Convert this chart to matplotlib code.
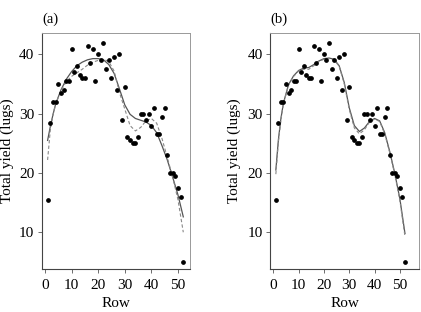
import numpy as np
import matplotlib
matplotlib.use("Agg")
import matplotlib.pyplot as plt

# -----------------------------
# data
# -----------------------------
rows = list(range(1, 53))
yield_lugs = [15.5, 28.5, 32, 32, 35, 33.5, 34, 35.5, 35.5, 41,
              37, 38, 36.5, 36, 36, 41.5, 38.5, 41, 35.5, 40,
              39, 42, 37.5, 39, 36, 39.5, 34, 40, 29, 34.5,
              26, 25.5, 25, 25, 26, 30, 30, 29, 30, 28,
              31, 26.5, 26.5, 29.5, 31, 23, 20, 20, 19.5, 17.5,
              16, 5]

fit_rows = [1, 2, 3, 4, 6, 8, 10, 12, 14, 16, 18, 20, 22, 24, 26, 28,
            30, 32, 34, 36, 38, 40, 42, 44, 46, 48, 50, 52]

# panel (a)
a_solid = [25.5, 27.8, 29.8, 31.6, 34.0, 35.8, 37.1, 38.1, 38.7, 39.1, 39.3, 39.3,
           39.1, 38.3, 36.8, 34.2, 31.5, 29.9, 29.2, 28.9, 28.6, 28.0, 26.8, 24.6,
           22.2, 19.3, 16.3, 12.6]
a_dashed = [22.2, 27.2, 29.8, 31.6, 33.9, 35.4, 36.3, 36.9, 37.5, 38.2, 38.7, 39.0,
            39.2, 38.8, 37.2, 33.6, 30.8, 28.0, 27.1, 27.7, 28.8, 29.2, 28.4, 25.8,
            22.6, 19.3, 15.5, 10.0]

# panel (b)
b_solid = [20.5, 25.6, 29.2, 31.8, 34.9, 36.4, 37.3, 37.7, 37.8, 38.3, 38.9, 39.3,
           39.4, 39.2, 38.1, 35.3, 31.0, 28.0, 27.0, 27.6, 28.7, 29.2, 28.8, 26.8,
           23.6, 19.9, 15.6, 9.8]
b_dashed = [19.8, 25.2, 29.0, 31.7, 34.8, 36.3, 37.2, 37.5, 37.5, 38.1, 38.8, 39.2,
            39.3, 39.1, 38.0, 35.1, 30.7, 27.6, 26.6, 27.3, 28.6, 29.1, 28.7, 26.6,
            23.4, 19.7, 15.3, 9.3]

plt.rcParams['font.family'] = ['Liberation Serif', 'DejaVu Serif']

fig = plt.figure(figsize=(4.21, 3.12), dpi=100)
ax_a = fig.add_axes([0.0998, 0.1378, 0.352, 0.756])
ax_b = fig.add_axes([0.642, 0.1378, 0.353, 0.756])

panels = [(ax_a, a_solid, a_dashed, "(a)", (-1.1, 54.6), -0.19),
          (ax_b, b_solid, b_dashed, "(b)", (-1.2, 57.5), -0.20)]

for ax, solid, dashed, tag, xl, ylab_x in panels:
    ax.plot(fit_rows, solid, color="#555555", lw=0.9, zorder=2)
    ax.plot(fit_rows, dashed, color="#888888", lw=0.8, ls=(0, (3, 2)), zorder=2)
    ax.plot(rows, yield_lugs, "o", color="black", ms=2.4, zorder=3)

    ax.set_xlim(*xl)
    ax.set_ylim(3.8, 43.6)
    ax.set_xticks([0, 10, 20, 30, 40, 50])
    ax.set_yticks([10, 20, 30, 40])
    ax.tick_params(direction="out", length=3, width=0.6, labelsize=11,
                   color="#555555", pad=2.5)
    ax.tick_params(axis="x", pad=4)
    for side in ["left", "bottom"]:
        ax.spines[side].set_color("#444444")
        ax.spines[side].set_linewidth(0.8)
    for side in ["top", "right"]:
        ax.spines[side].set_color("#999999")
        ax.spines[side].set_linewidth(0.7)

    ax.set_xlabel("Row", fontsize=11, labelpad=4)
    ax.set_ylabel("Total yield (lugs)", fontsize=11)
    ax.yaxis.set_label_coords(ylab_x, 0.5)
    ax.text(0.0, 1.03, tag, transform=ax.transAxes, fontsize=10.5,
            ha="left", va="bottom")

fig.savefig("out.png", dpi=100)
